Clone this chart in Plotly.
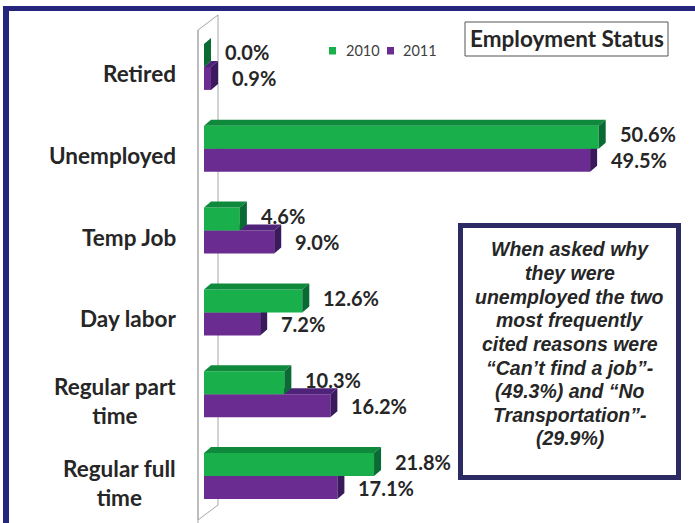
import plotly.graph_objects as go

# ---------------- data ----------------
categories = ["Regular full time", "Regular part time", "Day labor", "Temp Job", "Unemployed", "Retired"]
category_labels = ["Regular full<br>time", "Regular part<br>time", "Day labor", "Temp Job", "Unemployed", "Retired"]
values_2010 = [21.8, 10.3, 12.6, 4.6, 50.6, 0.0]
values_2011 = [17.1, 16.2, 7.2, 9.0, 49.5, 0.9]
series_names = ["2010", "2011"]
chart_title = "Employment Status"
note_lines = [
    "When asked why",
    "they were",
    "unemployed the two",
    "most frequently",
    "cited reasons were",
    "\u201cCan\u2019t find a job\u201d-",
    "(49.3%) and \u201cNo",
    "Transportation\u201d-",
    "(29.9%)",
]

# ---------------- styling / geometry ----------------
W, H = 695, 523
L, T, PW, PH = 204, 26, 468, 491
X_MAX = 60
BAR_W = 0.281          # bar thickness in category units
DX = 0.9               # 3D depth along x (data units)
DY = 0.073             # 3D depth along y (category units)
GREEN = ["#19b04b", "#0f8a3d", "#0a6a33"]    # front, top, side
PURPLE = ["#6a2c91", "#4f2279", "#3a1a5c"]
NAVY = "#25257d"
BOX_NAVY = "#2c2a62"
TEXT = "#262626"
FONT = "Lato"


def px(x):
    return (x - L) / PW


def py(y):
    return 1 - (y - T) / PH


positions = list(range(len(categories)))


def faces(values, offset):
    tx, ty, sx, sy = [], [], [], []
    for p, v in zip(positions, values):
        y0 = p + offset
        y1 = y0 + BAR_W
        tx += [0, v, v + DX, DX, 0, None]
        ty += [y1, y1, y1 + DY, y1 + DY, y1, None]
        sx += [v, v + DX, v + DX, v, v, None]
        sy += [y0, y0 + DY, y1 + DY, y1, y0, None]
    return tx, ty, sx, sy


fig = go.Figure()

series = [
    (series_names[1], values_2011, -BAR_W, PURPLE, "x", "y"),
    (series_names[0], values_2010, 0.0, GREEN, "x2", "y2"),
]

for name, vals, off, col, xa, ya in series:
    fig.add_trace(go.Bar(
        x=vals, y=positions, orientation="h", width=BAR_W, offset=off,
        marker=dict(color=col[0], line=dict(width=0)), name=name,
        showlegend=False, xaxis=xa, yaxis=ya, hoverinfo="x+name",
    ))
    tx, ty, sx, sy = faces(vals, off)
    fig.add_trace(go.Scatter(x=tx, y=ty, mode="lines", fill="toself", fillcolor=col[1],
                             line=dict(width=0, color=col[1]), showlegend=False,
                             hoverinfo="skip", xaxis=xa, yaxis=ya))
    fig.add_trace(go.Scatter(x=sx, y=sy, mode="lines", fill="toself", fillcolor=col[2],
                             line=dict(width=0, color=col[2]), showlegend=False,
                             hoverinfo="skip", xaxis=xa, yaxis=ya))

annotations = []
label_font = dict(family=FONT, size=20, color=TEXT, weight="bold")
# data labels
for p, v in zip(positions, values_2010):
    annotations.append(dict(x=v, y=p + BAR_W / 2, xref="x", yref="y", text=f"{v:.1f}%",
                            showarrow=False, xanchor="left", xshift=19, yshift=3,
                            font=label_font))
for p, v in zip(positions, values_2011):
    annotations.append(dict(x=v, y=p - BAR_W / 2, xref="x", yref="y", text=f"{v:.1f}%",
                            showarrow=False, xanchor="left", xshift=19, yshift=0,
                            font=label_font))
# category labels
for p, lab in zip(positions, category_labels):
    annotations.append(dict(x=0, y=p, xref="x", yref="y", text=lab, showarrow=False,
                            xanchor="right", xshift=-26, yshift=-6.5, align="center",
                            font=dict(family=FONT, size=22.5, color=TEXT, weight="bold")))
# title box text
annotations.append(dict(x=px(566.5), y=py(39), xref="paper", yref="paper", text=chart_title,
                        showarrow=False, xanchor="center", yanchor="middle",
                        font=dict(family=FONT, size=22.5, color=TEXT, weight="bold")))
# legend (key squares + texts)
legend_items = [(series_names[0], GREEN[0], 329, 344), (series_names[1], PURPLE[0], 387, 401)]
shapes = []
for name, col, sq_x, tx_x in legend_items:
    shapes.append(dict(type="rect", xref="paper", yref="paper", x0=px(sq_x), x1=px(sq_x + 7),
                       y0=py(47), y1=py(54.5), fillcolor=col, line=dict(width=0)))
    annotations.append(dict(x=px(tx_x), y=py(50.5), xref="paper", yref="paper", text=name,
                            showarrow=False, xanchor="left", yanchor="middle",
                            font=dict(family=FONT, size=14.5, color="#404040")))
# note text, one annotation per line
for i, line in enumerate(note_lines):
    annotations.append(dict(x=px(569.5), y=py(249.5 + i * 23.6), xref="paper", yref="paper",
                            text=line, showarrow=False, align="center",
                            xanchor="center", yanchor="middle",
                            font=dict(family="Liberation Sans", size=19.5, color=TEXT,
                                      weight="bold", style="italic")))

shapes += [
    # back wall of 3D chart
    dict(type="path", xref="paper", yref="paper", layer="below",
         path=f"M{px(198)},{py(30)} L{px(218)},{py(15)} L{px(218)},{py(505)} "
              f"L{px(198)},{py(520)} Z M{px(198)},{py(30)} L{px(198)},{py(530)}",
         line=dict(color="#a6a6a6", width=1), fillcolor="rgba(0,0,0,0)"),
    # page borders
    dict(type="rect", xref="paper", yref="paper", x0=px(3), x1=px(700), y0=py(6), y1=py(11),
         fillcolor=NAVY, line=dict(width=0)),
    dict(type="rect", xref="paper", yref="paper", x0=px(3), x1=px(9), y0=py(6), y1=py(530),
         fillcolor=NAVY, line=dict(width=0)),
    # title box
    dict(type="rect", xref="paper", yref="paper", x0=px(465), x1=px(668), y0=py(22), y1=py(56),
         fillcolor="white", line=dict(color="#555555", width=1)),
    # note box
    dict(type="rect", xref="paper", yref="paper", x0=px(460.5), x1=px(678.5), y0=py(225.5),
         y1=py(477.5), fillcolor="white", line=dict(color=BOX_NAVY, width=5)),
]

axis_common = dict(showgrid=False, zeroline=False, showticklabels=False, showline=False,
                   ticks="", fixedrange=True)
fig.update_layout(
    width=W, height=H, autosize=False,
    margin=dict(l=L, r=W - L - PW, t=T, b=H - T - PH),
    paper_bgcolor="white", plot_bgcolor="white",
    barmode="overlay",
    xaxis=dict(range=[0, X_MAX], **axis_common),
    yaxis=dict(range=[-0.5, len(categories) - 0.5], **axis_common),
    xaxis2=dict(range=[0, X_MAX], overlaying="x", **axis_common),
    yaxis2=dict(range=[-0.5, len(categories) - 0.5], overlaying="y", **axis_common),
    showlegend=False,
    annotations=annotations,
    shapes=shapes,
)

fig.write_html("out.html", config={"displayModeBar": False},
               post_script="document.body.style.margin='0';")
